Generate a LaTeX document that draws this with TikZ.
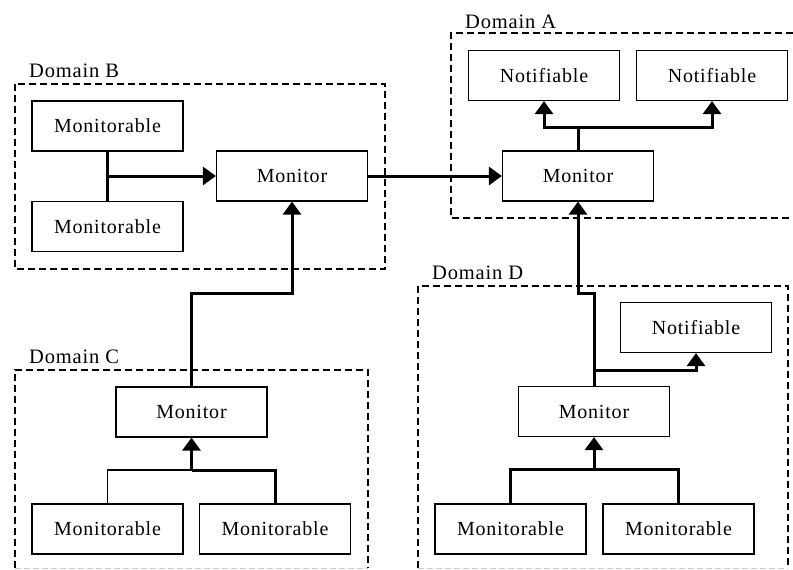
\documentclass[tikz,border=0pt]{standalone}
\usepackage{fontspec}
\setmainfont[LetterSpace=4]{Liberation Serif}
\usetikzlibrary{arrows.meta}
\begin{document}
\begin{tikzpicture}[x=1pt,y=-1pt,
  comp/.style={draw,line width=1.2pt,minimum width=151pt,minimum height=50pt,
    inner sep=0pt,font=\fontsize{20}{24}\selectfont},
  domainframe/.style={line width=2.8pt,dash pattern=on 7pt off 4pt},
  domainlabel/.style={anchor=base west,inner sep=0pt,font=\fontsize{20.5}{24}\selectfont},
  link/.style={line width=3pt},
  thinlink/.style={line width=1.3pt},
  flow/.style={line width=3pt,-{Triangle[length=13pt,width=18pt]}}]

% canvas
\fill[white] (0,0) rectangle (793,570);
\useasboundingbox (0,0) rectangle (793,570);

% domain frames
\draw[domainframe] (15,84) rectangle (385,269);
\draw[domainframe] (793,33) -- (451,33) -- (451,218) -- (793,218);
\draw[domainframe] (15,568) -- (15,370) -- (368,370) -- (368,568);
\draw[domainframe] (418,568) -- (418,286) -- (788,286) -- (788,568);
\draw[gray!40,line width=1pt,dash pattern=on 6pt off 3pt] (15,568.5) -- (368,568.5);
\draw[gray!40,line width=1pt,dash pattern=on 6pt off 3pt] (418,568.5) -- (788,568.5);

\node[domainlabel] (labB) at (29,77) {Domain B};
\node[domainlabel] (labA) at (465,28) {Domain A};
\node[domainlabel] (labC) at (29,363) {Domain C};
\node[domainlabel] (labD) at (432,279) {Domain D};

% Domain B
\node[comp] (b1) at (107.5,126) {Monitorable};
\node[comp] (b2) at (107.5,226.5) {Monitorable};
\node[comp] (bmon) at (292,176) {Monitor};

% Domain A
\node[comp] (amon) at (578,176) {Monitor};
\node[comp] (a1) at (544,75.5) {Notifiable};
\node[comp] (a2) at (712,75.5) {Notifiable};

% Domain C
\node[comp] (cmon) at (191.5,412) {Monitor};
\node[comp] (c1) at (107.5,529) {Monitorable};
\node[comp] (c2) at (275,529) {Monitorable};

% Domain D
\node[comp] (dmon) at (594,411.5) {Monitor};
\node[comp] (dn) at (696,327.5) {Notifiable};
\node[comp] (d1) at (510.5,529) {Monitorable};
\node[comp] (d2) at (678.5,529) {Monitorable};

% junction points
\coordinate (bj) at (107.5,176);
\coordinate (aj) at (578,127);
\coordinate (cb) at (292,293);
\coordinate (cj) at (191.5,470);
\coordinate (dk) at (594,293);
\coordinate (dnj) at (594,370);
\coordinate (dj) at (594,469);

% Domain B wiring
\draw[link] (b1.south) -- (b2.north);
\draw[flow] (bj) -- (bmon.west);
\draw[flow] (bmon.east) -- (amon.west);

% Domain A wiring
\draw[link] (amon.north) -- (aj);
\draw[flow] (aj) -| (a1.south);
\draw[flow] (aj) -| (a2.south);

% Domain C wiring
\draw[flow] (cmon.north) |- (cb) -- (bmon.south);
\draw[thinlink] (c1.north) |- (cj);
\draw[link] (c2.north) |- (cj);
\draw[flow] (cj) -- (cmon.south);

% Domain D wiring
\draw[flow] (dmon.north) -- (dk) -| (amon.south);
\draw[flow] (dnj) -| (dn.south);
\draw[link] (d1.north) |- (dj);
\draw[link] (d2.north) |- (dj);
\draw[flow] (dj) -- (dmon.south);
\end{tikzpicture}
\end{document}
